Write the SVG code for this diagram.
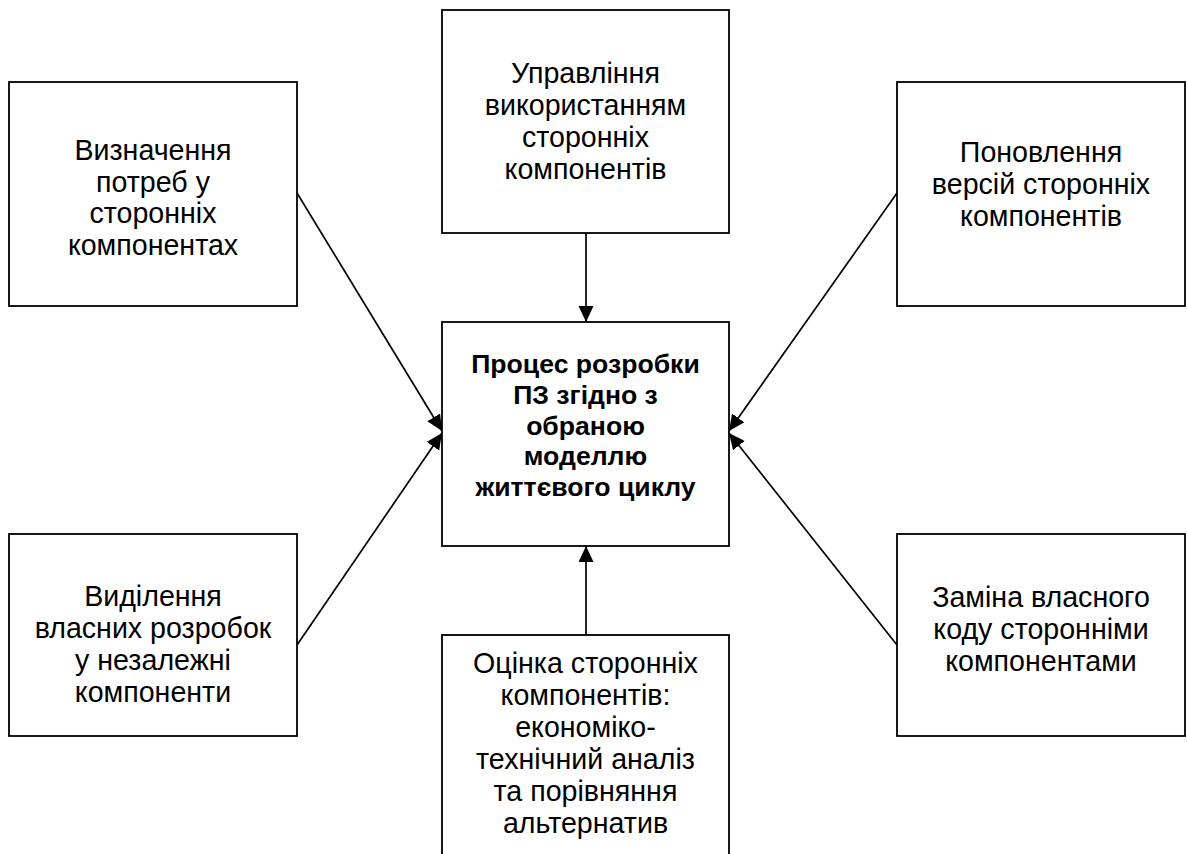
<svg xmlns="http://www.w3.org/2000/svg" width="1187" height="854" viewBox="0 0 1187 854">
<style>
  .box { fill: #fff; stroke: #000; stroke-width: 1.8; }
  .t { font-family: "Liberation Sans", Arial, sans-serif; font-size: 28.6px; fill: #000; text-anchor: middle; }
  .b { font-weight: bold; font-size: 26.6px; }
  .c { stroke: #000; stroke-width: 1.7; fill: none; marker-end: url(#ah); }
</style>
<defs>
  <marker id="ah" markerUnits="userSpaceOnUse" markerWidth="17" markerHeight="16" refX="16" refY="7.5" orient="auto">
    <path d="M0,0 L16,7.5 L0,15 z" fill="#000"/>
  </marker>
</defs>
<g id="connectors">
  <line class="c" x1="297" y1="193" x2="442" y2="431"/>
  <line class="c" x1="297" y1="645" x2="442" y2="433"/>
  <line class="c" x1="897" y1="193" x2="729" y2="431"/>
  <line class="c" x1="897" y1="645" x2="729" y2="433"/>
  <line class="c" x1="586" y1="233" x2="586" y2="322"/>
  <line class="c" x1="586" y1="635" x2="586" y2="546"/>
</g>
<g id="n-needs">
  <rect class="box" x="9" y="82" width="288" height="224"/>
  <text class="t" x="153" y="160">Визначення</text>
  <text class="t" x="153" y="192">потреб у</text>
  <text class="t" x="153" y="223">сторонніх</text>
  <text class="t" x="153" y="255">компонентах</text>
</g>
<g id="n-manage">
  <rect class="box" x="442" y="10" width="287" height="223"/>
  <text class="t" x="585.5" y="83">Управління</text>
  <text class="t" x="585.5" y="115">використанням</text>
  <text class="t" x="585.5" y="147">сторонніх</text>
  <text class="t" x="585.5" y="179">компонентів</text>
</g>
<g id="n-update">
  <rect class="box" x="897" y="82" width="288" height="224"/>
  <text class="t" x="1041" y="162">Поновлення</text>
  <text class="t" x="1041" y="194">версій сторонніх</text>
  <text class="t" x="1041" y="226">компонентів</text>
</g>
<g id="n-process">
  <rect class="box" x="442" y="322" width="287" height="224"/>
  <text class="t b" x="585.5" y="373">Процес розробки</text>
  <text class="t b" x="585.5" y="404">ПЗ згідно з</text>
  <text class="t b" x="585.5" y="435">обраною</text>
  <text class="t b" x="585.5" y="465">моделлю</text>
  <text class="t b" x="585.5" y="496">життєвого циклу</text>
</g>
<g id="n-extract">
  <rect class="box" x="9" y="534" width="288" height="202"/>
  <text class="t" x="153" y="606">Виділення</text>
  <text class="t" x="153" y="638">власних розробок</text>
  <text class="t" x="153" y="670">у незалежні</text>
  <text class="t" x="153" y="702">компоненти</text>
</g>
<g id="n-replace">
  <rect class="box" x="897" y="534" width="288" height="202"/>
  <text class="t" x="1041" y="607">Заміна власного</text>
  <text class="t" x="1041" y="639">коду сторонніми</text>
  <text class="t" x="1041" y="671">компонентами</text>
</g>
<g id="n-evaluate">
  <rect class="box" x="442" y="635" width="287" height="240"/>
  <text class="t" x="585.5" y="673">Оцінка сторонніх</text>
  <text class="t" x="585.5" y="705">компонентів:</text>
  <text class="t" x="585.5" y="737">економіко-</text>
  <text class="t" x="585.5" y="769">технічний аналіз</text>
  <text class="t" x="585.5" y="801">та порівняння</text>
  <text class="t" x="585.5" y="833">альтернатив</text>
</g>
</svg>
